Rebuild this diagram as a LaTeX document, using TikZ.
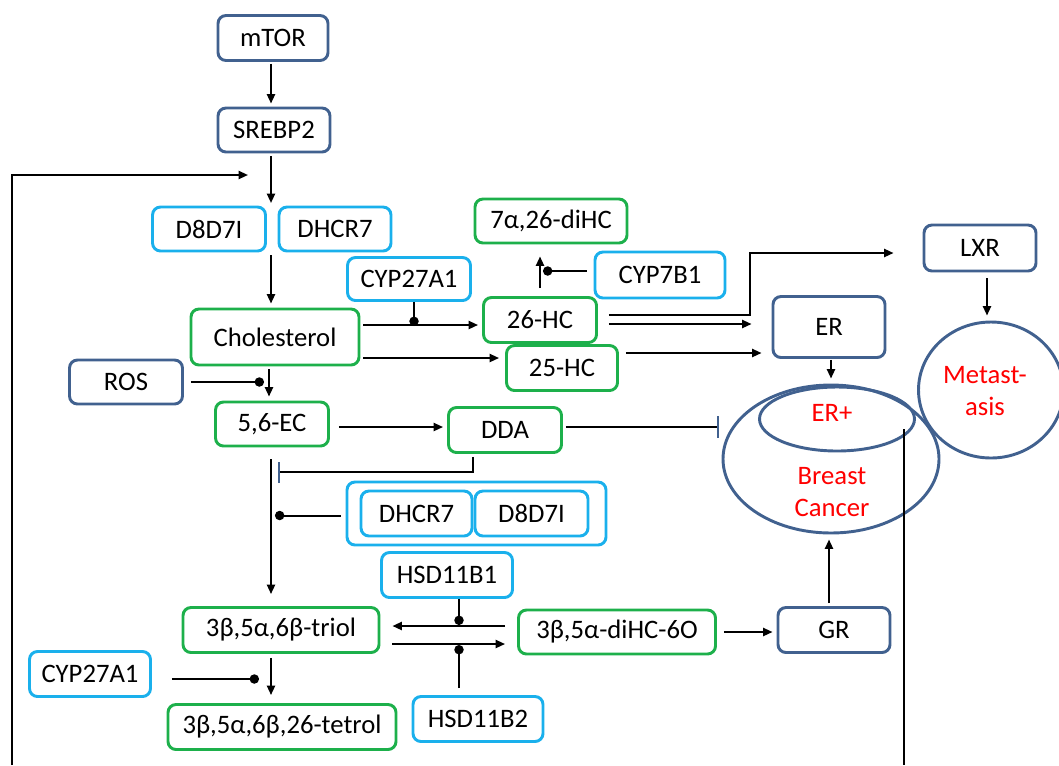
\documentclass[tikz,border=0pt]{standalone}
\usepackage{fontspec}
\setmainfont{Carlito}
\usetikzlibrary{arrows.meta,calc,shapes.geometric}
\definecolor{dblue}{HTML}{41618F}
\definecolor{lblue}{HTML}{1AB0EC}
\definecolor{grn}{HTML}{1DB04B}
\begin{document}
\begin{tikzpicture}[x=0.75pt,y=-0.75pt,
  font=\fontsize{20}{23.5}\selectfont,
  box/.style={draw, rounded corners=6pt, line width=2.2pt, inner sep=0pt, align=center},
  dbox/.style={box, draw=dblue},
  lbox/.style={box, draw=lblue},
  gbox/.style={box, draw=grn},
  sz/.style 2 args={minimum width=#1*0.75pt, minimum height=#2*0.75pt},
  oval/.style={draw=dblue, ellipse, line width=2.2pt, inner sep=0pt},
  arr/.style={line width=1.5pt, -{Triangle[length=7pt,width=6pt]}},
  enz/.style={line width=1.5pt, -{Circle[length=7pt]}},
  inh/.style={line width=1.5pt, -{Bar[width=16pt, line width=1.5pt, color=dblue]}},
  ln/.style={line width=1.5pt},
  redtext/.style={text=red, align=center}]
\useasboundingbox (0,0) rectangle (1059,765);

% nodes
\node[dbox,sz={110}{45}] (mtor) at (273,38) {mTOR};
\node[dbox,sz={112}{44}] (srebp) at (274,130) {SREBP2};
\node[lbox,sz={113}{44}] (d8a) at (209,229) {D8D7I};
\node[lbox,sz={112}{44}] (dhcra) at (335,229) {DHCR7};
\node[gbox,sz={152}{44}] (dihc) at (551,221) {7α,26-diHC};
\node[lbox,sz={123}{43}] (cyp27a) at (409,279) {CYP27A1};
\node[lbox,sz={130}{46}] (cyp7) at (660,275) {CYP7B1};
\node[dbox,sz={112}{46}] (lxr) at (980,248) {LXR};
\node[gbox,sz={168}{56}] (chol) at (275,337) {Cholesterol};
\node[gbox,sz={113}{45}] (hc26) at (540,320) {26-HC};
\node[gbox,sz={111}{45}] (hc25) at (562,368) {25-HC};
\node[dbox,sz={112}{61}] (er) at (829,327) {ER};
\node[dbox,sz={113}{44}] (ros) at (126,382) {ROS};
\node[gbox,sz={113}{44}] (ec) at (272,424) {5,6-EC};
\node[gbox,sz={113}{45}] (dda) at (505,430) {DDA};

\node[oval,sz={216}{148}] (bc) at (831,459) {};
\node[oval,sz={155}{64}] (erp) at (837,419) {};
\node[redtext] (erptext) at (832,413) {ER+};
\node[redtext] (bctext) at (832,492) {Breast\\Cancer};
\node[oval,sz={145}{136}] (met) at (991,390) {};
\node[redtext] (mettext) at (985,391) {Metast-\\asis};

\node[lbox,sz={259}{63}] (grp) at (476.5,513.5) {};
\node[lbox,sz={111}{45}] (dhcrb) at (416.5,513.5) {DHCR7};
\node[lbox,sz={113}{45}] (d8b) at (531.5,513.5) {D8D7I};

\node[lbox,sz={131}{45}] (hsd1) at (447,575) {HSD11B1};
\node[gbox,sz={196}{45}] (triol) at (281,630) {3β,5α,6β-triol};
\node[gbox,sz={197}{44}] (dihco) at (617,632) {3β,5α-diHC-6O};
\node[dbox,sz={112}{45}] (gr) at (834,630) {GR};
\node[lbox,sz={121}{45}] (cyp27b) at (90,674) {CYP27A1};
\node[gbox,sz={228}{45}] (tetrol) at (282,727) {3β,5α,6β,26-tetrol};
\node[lbox,sz={130}{45}] (hsd2) at (478,719) {HSD11B2};

% free points
\coordinate (p1) at (271,203);
\coordinate (p2) at (271,255);
\coordinate (fb0) at (12,765);
\coordinate (fb1) at (248,175);
\coordinate (lxrc) at (750,253);
\coordinate (rl0) at (904,429);
\coordinate (rl1) at (904,765);

% connectors
\draw[arr] ($(mtor.south)+(-2,2)$) -- ($(srebp.north)+(-3,-3)$);
\draw[arr] ($(srebp.south)+(-3,3)$) -- (p1);
\draw[arr] (fb0) |- (fb1);
\draw[arr] (p2) -- ($(p2 |- chol.north)+(0,-4)$);

\draw[arr] ($(chol.east)+(3,-12)$) -- ($(hc26.west)+(-4,5)$);
\draw[enz] ($(cyp27a.south)+(5,0)$) -- ++(0,24);
\draw[arr] ($(chol.east)+(3,21)$) -- ($(hc25.west)+(-6,-10)$);

\draw[arr] ($(hc26.north)+(0,-8)$) -- ($(hc26.north |- dihc.south)+(0,12)$);
\draw[enz] ($(cyp7.west)+(-7,-4)$) -- ($(hc26.north |- cyp7.west)+(3,-4)$);

\draw[arr] ($(hc26.east)+(11,-5)$) -| (lxrc) -- ($(lxr.west)+(-29,5)$);
\draw[arr] ($(hc26.east)+(11,4)$) -- ($(er.west)+(-20,-3)$);
\draw[arr] ($(hc25.east)+(7,-15)$) -- ($(er.west)+(-10,26)$);

\draw[arr] ($(er.south)+(2,1)$) -- ($(erp.north)+(-6,-7)$);
\draw[arr] ($(lxr.south)+(7,6)$) -- ($(met.north)+(-4,-5)$);

\draw[enz] ($(ros.east)+(7,0)$) -- ($(ros.east -| ec.north)+(-8,0)$);
\draw[arr] ($(chol.south)+(-6,3)$) -- ($(ec.north)+(-3,-4)$);

\draw[arr] ($(ec.east)+(9,3)$) -- ($(dda.west)+(-4,-3)$);
\draw[inh] ($(dda.east)+(3,-3)$) -- ($(bc.west |- dda.east)+(-3,-3)$);
\draw[inh] ($(dda.south)+(-32,3)$) |- ($(ec.south)+(6,25)$);

\draw[arr] ($(ec.south)+(-1,12)$) -- ($(triol.north)+(-10,-12)$);
\draw[enz] ($(grp.west)+(-5,2)$) -- ($(ec.south |- grp.west)+(3,2)$);

\draw[enz] ($(hsd1.south)+(12,0)$) -- ++(0,26);
\draw[arr] ($(dihco.west)+(-12,-6)$) -- ($(triol.east)+(12,-4)$);
\draw[arr] ($(triol.east)+(12,14)$) -- ($(dihco.west)+(-12,12)$);
\draw[enz] ($(hsd2.north)+(-19,-7)$) -- ++(0,-43);

\draw[arr] ($(triol.south)+(-10,4)$) -- ($(tetrol.north)+(-11,-8)$);
\draw[enz] ($(cyp27b.east)+(20,5)$) -- ($(triol.south |- cyp27b.east)+(-22,5)$);

\draw[arr] ($(dihco.east)+(7,0)$) -- ($(gr.west)+(-4,2)$);
\draw[arr] ($(gr.north)+(-5,-3)$) -- ($(bc.south)+(-2,5)$);
\draw[ln] (rl0) -- (rl1);
\end{tikzpicture}
\end{document}
